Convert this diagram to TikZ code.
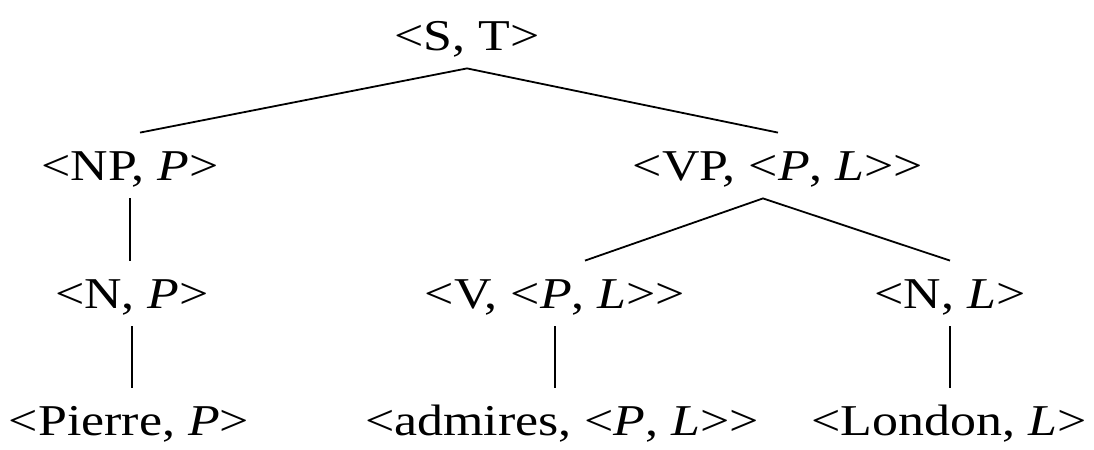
\documentclass[tikz,border=0pt]{standalone}
\usepackage{fontspec}
\setmainfont[FakeStretch=1.18]{Liberation Serif}
\usepackage{tikz}

\tikzset{
  cat/.style={anchor=base, inner xsep=0pt, inner ysep=9pt,
    text height=14.5pt, text depth=0pt, font=\fontsize{22}{26}\selectfont},
  branch/.style={line width=0.9pt}
}

\begin{document}
\begin{tikzpicture}[x=0.5pt, y=-0.5pt]
\useasboundingbox (0,0) rectangle (1094,450);
% categories with their types
\node[cat] (st) at (467,50) {<S, T>};
\node[cat] (np) at (130,180) {<NP, \textit{P}>};
\node[cat] (vp) at (778,180) {<VP, <\textit{P}, \textit{L}>{}>};
\node[cat] (np-n) at (132,308) {<N, \textit{P}>};
\node[cat] (vp-v) at (555,308) {<V, <\textit{P}, \textit{L}>{}>};
\node[cat] (vp-n) at (950,308) {<N, \textit{L}>};
\node[cat] (pierre) at (129,435) {<Pierre, \textit{P}>};
\node[cat] (admires) at (562,435) {<admires, <\textit{P}, \textit{L}>{}>};
\node[cat] (london) at (949,435) {<London, \textit{L}>};
% branches
\draw[branch] ([xshift=5pt]np.north) -- (st.south) -- (vp.north);
\draw[branch] (np.south) -- (np.south |- np-n.north);
\draw[branch] ([xshift=15pt]vp-v.north) -- ([xshift=-7.5pt]vp.south) -- (vp-n.north);
\draw[branch] (np-n.south) -- (np-n.south |- pierre.north);
\draw[branch] (vp-v.south) -- (vp-v.south |- admires.north);
\draw[branch] (vp-n.south) -- (vp-n.south |- london.north);
\end{tikzpicture}
\end{document}
